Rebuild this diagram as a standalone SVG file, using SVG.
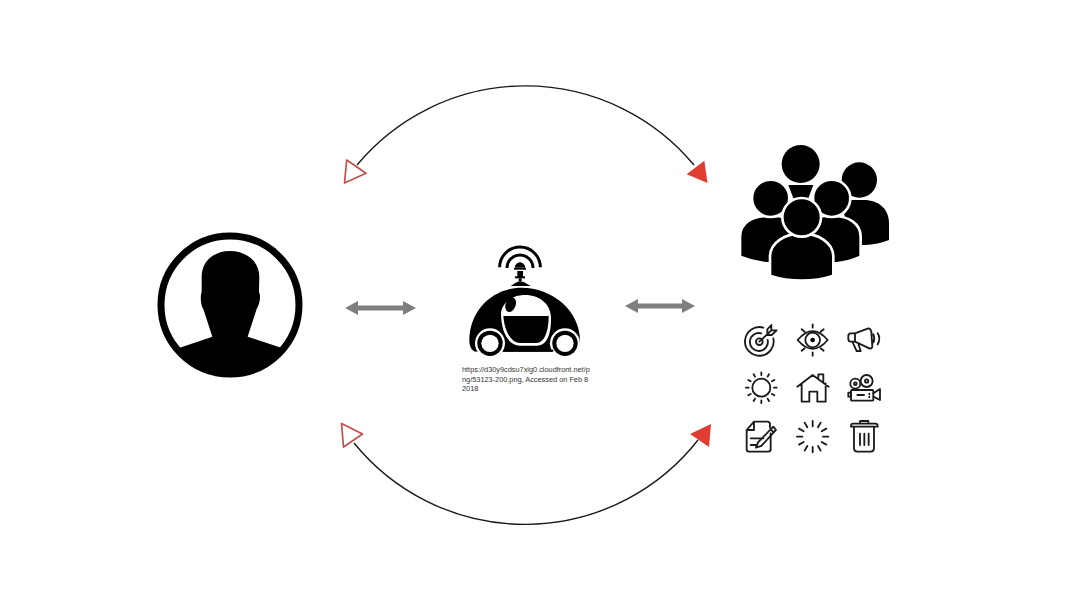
<svg xmlns="http://www.w3.org/2000/svg" width="1080" height="608" viewBox="0 0 1080 608">
<style>
.arc{fill:none;stroke:#1a1a1a;stroke-width:1.4}
.open{fill:#fff;stroke:#c0504d;stroke-width:1.7;stroke-linejoin:round}
.solid{fill:#e03c31;stroke:none}
.gray{fill:#7f7f7f;stroke:none}
.ln{fill:none;stroke:#1a1a1a;stroke-width:5.500;stroke-linecap:round;stroke-linejoin:round}
.blk{fill:#000;stroke:none}
.out{fill:#000;stroke:#fff;stroke-width:8}
.wht{fill:#fff;stroke:none}
.cap{font-family:"Liberation Sans",Arial,sans-serif;font-size:7.35px;fill:#333}
</style>
<defs>
<clipPath id="pc"><circle cx="240" cy="240" r="205"/></clipPath>
</defs>
<g id="connectors">
<path class="arc" d="M357 165A219 219 0 0 1 694 165"/>
<path class="arc" d="M354 443A220 220 0 0 0 698 440"/>
<polygon class="open" points="346.7,160 366,173.3 344.5,183"/>
<polygon class="solid" points="704.3,160.7 686.7,174.3 707.5,183"/>
<polygon class="open" points="341.5,423.5 362.5,434 343.5,447"/>
<polygon class="solid" points="711,424 690,434 709,447"/>
<polygon class="gray" points="345,308 358,301 358,305.5 403,305.5 403,301 416,308 403,315 403,310.5 358,310.5 358,315"/>
<polygon class="gray" points="625,306 638,299 638,303.5 682,303.5 682,299 695,306 682,313 682,308.5 638,308.5 638,313"/>
</g>
<g id="person" transform="translate(150,225) scale(.3333)">
<circle cx="240" cy="240" r="207" fill="none" stroke="#000" stroke-width="21"/>
<path class="blk" clip-path="url(#pc)" d="M240 78C290 78 328 110 328 155L327 200C334 215 328 240 320 252L293 335L398 370L398 460L85 460L85 370L187 335L160 252C152 240 150 215 155 200L155 155C155 110 190 78 240 78Z"/>
</g>
<g id="car" transform="translate(440,235) scale(.3333)">
<path d="M179 97A61 61 0 0 1 301 97M201 99A39 39 0 0 1 279 99" fill="none" stroke="#000" stroke-width="9"/>
<path class="blk" d="M224 98A16 16 0 0 1 256 98Z"/>
<rect class="blk" x="222" y="99" width="36" height="5"/>
<rect class="blk" x="232" y="108" width="17" height="18"/>
<rect class="blk" x="225" y="124" width="30" height="6"/>
<path class="blk" d="M236 130H245V140H236Z"/>
<path class="blk" d="M212 153L232 140H250L272 153Z"/>
<path class="blk" d="M245 158C335 158 420 225 420 318C420 335 410 350 395 350H110C95 350 88 335 88 315C88 225 160 158 245 158Z"/>
<path class="wht" d="M183 235C185 205 215 180 255 180C302 180 333 210 333 250C333 290 325 332 290 332H240C205 332 183 290 183 235Z"/>
<path class="blk" d="M190 243H326C326 285 315 324 288 324H240C212 324 193 285 190 243Z"/>
<ellipse class="blk" cx="212" cy="209" rx="15" ry="23" transform="rotate(20 212 209)"/>
<circle cx="150" cy="325" r="45" fill="#fff"/>
<circle cx="150" cy="325" r="38" fill="#000"/>
<circle cx="150" cy="325" r="26" fill="#fff"/>
<circle cx="375" cy="325" r="45" fill="#fff"/>
<circle cx="375" cy="325" r="38" fill="#000"/>
<circle cx="375" cy="325" r="26" fill="#fff"/>
<rect class="blk" x="190" y="344" width="150" height="6"/>
</g>
<g id="caption" opacity=".99">
<text class="cap" x="462" y="372">https://d30y9cdsu7xlg0.cloudfront.net/p</text>
<text class="cap" x="462" y="381.500">ng/53123-200.png, Accessed on Feb 8</text>
<text class="cap" x="462" y="391">2018</text>
</g>
<g id="crowd" transform="translate(730,135) scale(.3333)">
<circle class="blk" cx="212" cy="87" r="57"/>
<path class="blk" d="M175 150H250L235 190H190Z"/>
<circle class="blk" cx="388" cy="135" r="53"/>
<path class="blk" d="M340 195H400C450 195 477 225 477 265V315C455 325 430 328 405 330L350 330Z"/>
<path class="out" d="M30 365V305C30 265 65 243 110 243H135C175 243 195 270 195 310V385H110C80 382 55 375 30 365Z"/>
<circle class="out" cx="122" cy="190" r="56"/>
<path class="out" d="M392 365V305C392 265 355 243 310 243H285C245 243 225 270 225 310V385H320C345 382 370 375 392 365Z"/>
<circle class="out" cx="305" cy="190" r="56"/>
<path class="out" d="M120 422V365C120 322 165 296 215 296C265 296 310 322 310 365V422C250 442 180 442 120 422Z"/>
<circle class="out" cx="215" cy="247" r="58"/>
</g>
<g id="icons" transform="translate(730,315) scale(.3333)">
<g id="target" class="ln">
<path d="M100 38A43 43 0 1 0 130 70M94 55A27 27 0 1 0 113 75"/>
<circle cx="88" cy="80" r="10"/>
<path d="M88 80L124 46M112 43L124 30V46L140 46L125 60H112V43"/>
</g>
<g id="eye" class="ln">
<path d="M203 75Q248 22 293 75Q248 128 203 75Z"/>
<circle cx="248" cy="75" r="22"/>
<circle class="blk" cx="248" cy="75" r="7"/>
<path d="M248 28V38M248 112V122M215 43L224 50M281 43L272 50M215 107L224 100M281 107L272 100"/>
</g>
<g id="megaphone" class="ln">
<path d="M375 55H362Q355 55 355 63V72Q355 80 362 80H375ZM375 55L415 40Q422 40 424 50L427 95Q425 102 418 100L375 80M368 82L380 108H392L385 86M430 58Q436 70 430 82M443 55Q453 70 443 88"/>
</g>
<g id="sun" class="ln">
<circle cx="94" cy="218" r="27"/>
<path d="M94 172V180M94 256V264M48 218H56M132 218H140M71 178L75 185M117 178L113 185M71 258L75 251M117 258L113 251M55 195L62 199M133 195L126 199M55 241L62 237M133 241L126 237"/>
</g>
<g id="house" class="ln">
<path d="M202 215L248 180L296 215M215 205V260H238V230H262V260H287V205M265 190V178H280V202"/>
</g>
<g id="camera" class="ln">
<rect x="363" y="225" width="67" height="32" rx="3"/>
<circle cx="376" cy="206" r="15"/>
<circle cx="410" cy="198" r="18"/>
<circle cx="376" cy="206" r="4"/>
<circle cx="410" cy="198" r="5"/>
<path d="M430 235L450 222V255L430 245M355 233H363V245H355ZM382 240H402M418 236V238M418 245V247"/>
</g>
<g id="note" class="ln">
<path d="M122 355V403Q122 410 115 410H57Q50 410 50 403V345L72 320H112Q120 320 120 328V338M72 320V345H50"/>
<path d="M62 370H100M62 390H78M84 382L130 335L138 345L94 393L78 398ZM122 343L131 352"/>
</g>
<g id="spinner" class="ln">
<path d="M248 318V334M248 396V412M201 365H217M279 365H295M224 323L232 337M272 323L264 337M224 407L232 393M272 407L264 393M207 341L221 349M289 341L275 349M207 389L221 381M289 389L275 381"/>
</g>
<g id="trash" class="ln">
<path d="M363 333Q363 326 370 326H436Q443 326 443 333V335H363ZM390 325V318H415V325M372 336V400Q372 410 382 410H422Q432 410 432 400V336M390 356V390M403 356V390M416 356V390"/>
</g>
</g>
</svg>
